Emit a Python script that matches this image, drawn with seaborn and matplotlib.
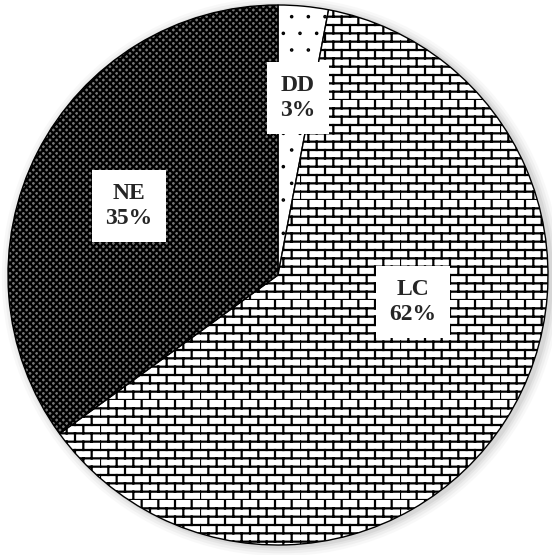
import numpy as np
import matplotlib
matplotlib.use("Agg")
import matplotlib.pyplot as plt
import matplotlib.hatch as mhatch
from matplotlib.path import Path
from matplotlib.patches import Circle
import seaborn as sns
import warnings
warnings.filterwarnings("ignore")

# ---- data ----
categories = ["DD", "LC", "NE"]
values = [3, 62, 35]
pct_labels = ["3%", "62%", "35%"]

# ---- style ----
hatches = ["d", "b", "xxxxx"]
facecolors = ["white", "white", "#767676"]
label_pos = [(0.074, 0.655), (0.50, -0.10), (-0.552, 0.256)]


class BrickHatch(mhatch.HatchPatternBase):
    rows = 12
    cols = 6

    def __init__(self, hatch, density):
        self.on = "b" in hatch
        self.num_vertices = (self.rows + self.rows * self.cols) * 2 if self.on else 0

    def set_vertices_and_codes(self, vertices, codes):
        k = 0
        for i in range(self.rows):
            y = i / self.rows
            vertices[k] = (0, y); vertices[k + 1] = (1, y)
            codes[k] = Path.MOVETO; codes[k + 1] = Path.LINETO
            k += 2
        for i in range(self.rows):
            y0 = i / self.rows
            y1 = (i + 1) / self.rows
            off = 0.5 * (i % 2)
            for j in range(self.cols):
                x = ((j + off) / self.cols) % 1.0
                vertices[k] = (x, y0); vertices[k + 1] = (x, y1)
                codes[k] = Path.MOVETO; codes[k + 1] = Path.LINETO
                k += 2


class TinyDots(mhatch.Shapes):
    size = 0.04
    filled = True

    def __init__(self, hatch, density):
        self.num_rows = 6 if "d" in hatch else 0
        self.shape_vertices = Path.unit_circle().vertices
        self.shape_codes = Path.unit_circle().codes
        super().__init__(hatch, density)


mhatch._hatch_types.append(BrickHatch)
mhatch._hatch_types.append(TinyDots)

sns.set_style("white")
plt.rcParams["font.family"] = ["Liberation Serif", "DejaVu Serif"]
plt.rcParams["hatch.linewidth"] = 1.6
plt.rcParams["hatch.color"] = "black"

fig = plt.figure(figsize=(5.52, 5.55), dpi=100)
ax = fig.add_axes([0, 0, 1, 1])

# soft shadow halo
for r, a in [(1.035, 0.05), (1.025, 0.07), (1.015, 0.09), (1.007, 0.12)]:
    ax.add_patch(Circle((0.012, -0.006), r, color="gray", alpha=a, lw=0, zorder=0))

wedges, _ = ax.pie(values, startangle=90, counterclock=False, radius=1.0,
                   colors=facecolors,
                   wedgeprops=dict(edgecolor="black", linewidth=1.0))
for w, h in zip(wedges, hatches):
    w.set_hatch(h)
    w.set_zorder(2)

for cat, pct, (x, y) in zip(categories, pct_labels, label_pos):
    ax.text(x, y, f"{cat}\n{pct}", ha="center", va="center", fontsize=17,
            fontweight="bold", linespacing=1.25, zorder=5,
            bbox=dict(boxstyle="square,pad=0.55", facecolor="white", edgecolor="none"))

ax.set_xlim(-278 / 270, (552 - 278) / 270)
ax.set_ylim(-(555 - 275) / 270, 275 / 270)
ax.set_aspect("auto")
ax.axis("off")
fig.savefig("out.png", dpi=100, facecolor="white")
